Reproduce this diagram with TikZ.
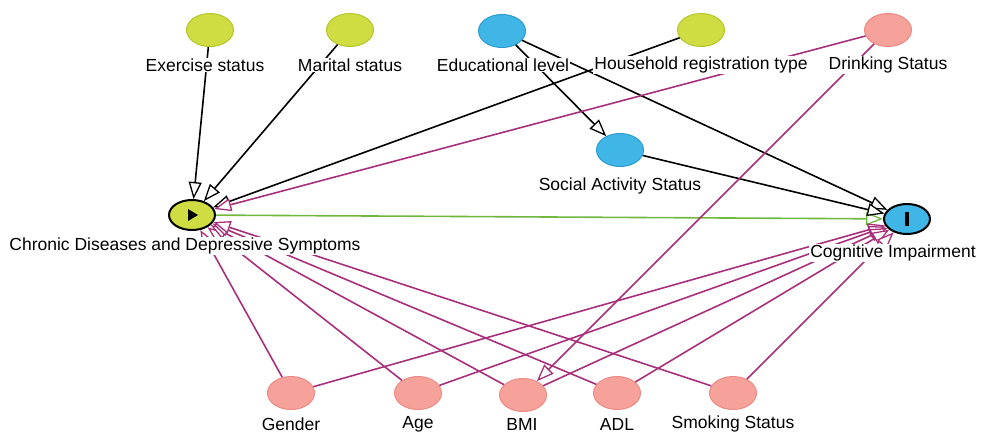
\documentclass[tikz,border=0pt]{standalone}
\usepackage{fontspec}
\setmainfont{Liberation Sans}
\usetikzlibrary{arrows.meta,shapes.geometric}
\definecolor{ygfill}{HTML}{CFDC42}
\definecolor{ygdraw}{HTML}{B4C62A}
\definecolor{bfill}{HTML}{40B6E6}
\definecolor{bdraw}{HTML}{2A9BCF}
\definecolor{pfill}{HTML}{F7A19B}
\definecolor{pdraw}{HTML}{EC8A84}
\definecolor{pedge}{HTML}{A8307A}
\definecolor{gedge}{HTML}{70B840}
\begin{document}
\begin{tikzpicture}[x=1pt,y=-1pt,
  var/.style={ellipse, minimum width=47pt, minimum height=33pt, inner sep=0pt, line width=1pt},
  yg/.style={var, fill=ygfill, draw=ygdraw},
  bl/.style={var, fill=bfill, draw=bdraw},
  pk/.style={var, fill=pfill, draw=pdraw},
  keyvar/.style={ellipse, minimum width=46pt, minimum height=30pt, inner sep=0pt, draw=black, line width=2pt},
  lbl/.style={fill=white, inner sep=1pt, font=\fontsize{17.5}{20}\selectfont},
  arr/.style={line width=1.6pt, -{Triangle[length=17pt,width=13pt,fill=white,line width=1.3pt]}},
  blk/.style={arr, draw=black},
  pur/.style={arr, draw=pedge},
  grn/.style={arr, draw=gedge}
]
\useasboundingbox (0,0) rectangle (995,434);
% nodes
\node[yg] (ex) at (210,30) {};
\node[yg] (mar) at (350,30) {};
\node[bl] (edu) at (502,31) {};
\node[yg] (hh) at (701,30) {};
\node[pk] (dr) at (888,30) {};
\node[bl] (soc) at (620,150) {};
\node[keyvar, fill=ygfill] (C) at (192,215) {};
\node[keyvar, fill=bfill] (O) at (907,219) {};
\node[pk] (gen) at (291,393) {};
\node[pk] (age) at (418,393) {};
\node[pk] (bmi) at (523,395) {};
\node[pk] (adl) at (617,393) {};
\node[pk] (smk) at (733,393) {};
% glyphs in key nodes
\fill (C.center) ++(-4,-6) -- ++(10,6) -- ++(-10,6) -- cycle;
\fill (O.center) ++(-2,-7) rectangle ++(4,14);
% edges
\draw[grn] (C) -- (O);
\draw[blk] (ex) -- (C);
\draw[blk] (mar) -- (C);
\draw[blk] (hh) -- (C);
\draw[blk] (edu) -- (soc);
\draw[blk] (edu) -- (O);
\draw[blk] (soc) -- (O);
\draw[pur] (dr) -- (C);
\draw[pur] (dr) -- (bmi);
\draw[pur] (gen) -- (C);
\draw[pur] (gen) -- (O);
\draw[pur] (age) -- (C);
\draw[pur] (age) -- (O);
\draw[pur] (bmi) -- (C);
\draw[pur] (bmi) -- (O);
\draw[pur] (adl) -- (C);
\draw[pur] (adl) -- (O);
\draw[pur] (smk) -- (C);
\draw[pur] (smk) -- (O);
% labels
\node[lbl] (exL) at (205,65) {Exercise status};
\node[lbl] (marL) at (350,65) {Marital status};
\node[lbl] (eduL) at (503,65) {Educational level};
\node[lbl] (hhL) at (701,65) {Household registration type};
\node[lbl] (drL) at (888,65) {Drinking Status};
\node[lbl] (socL) at (620,186) {Social Activity Status};
\node[lbl] (CL) at (185,246) {Chronic Diseases and Depressive Symptoms};
\node[lbl] (OL) at (893,253) {Cognitive Impairment};
\node[lbl] (genL) at (291,424) {Gender};
\node[lbl] (ageL) at (418,424) {Age};
\node[lbl] (bmiL) at (522,424) {BMI};
\node[lbl] (adlL) at (617,424) {ADL};
\node[lbl] (smkL) at (733,424) {Smoking Status};
\end{tikzpicture}
\end{document}
